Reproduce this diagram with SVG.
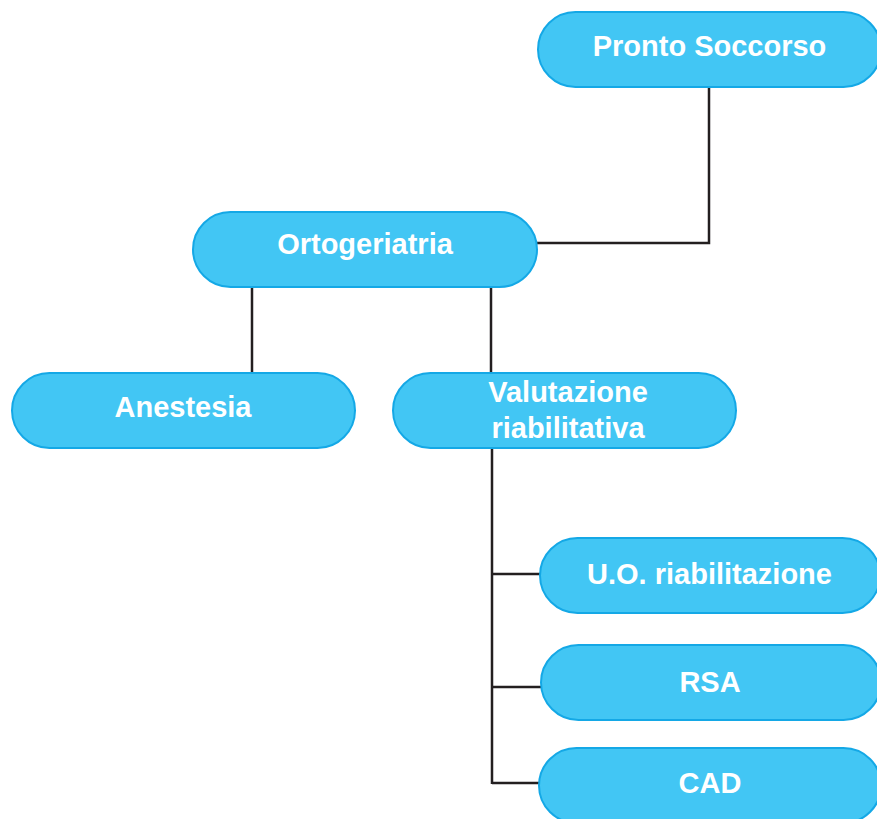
<svg xmlns="http://www.w3.org/2000/svg" width="877" height="819" viewBox="0 0 877 819">
<style>
.node rect{fill:#42C6F4;stroke:#14A8E6;stroke-width:2}
.node text{fill:#FFFFFF;font-family:"Liberation Sans",Arial,sans-serif;font-weight:bold;font-size:29px;text-anchor:middle}
.conn{fill:none;stroke:#231F20;stroke-width:2.5}
</style>
<rect width="877" height="819" fill="#FFFFFF"/>
<g id="connectors">
<polyline class="conn" points="709,87 709,243 537,243"/>
<line class="conn" x1="252" y1="287" x2="252" y2="373"/>
<line class="conn" x1="491" y1="287" x2="491" y2="373"/>
<line class="conn" x1="492" y1="448" x2="492" y2="784"/>
<line class="conn" x1="492" y1="574" x2="540" y2="574"/>
<line class="conn" x1="492" y1="687" x2="541" y2="687"/>
<line class="conn" x1="492" y1="783" x2="539" y2="783"/>
</g>
<g id="pronto-soccorso" class="node"><rect x="538" y="12" width="343" height="75" rx="37.5"/><text x="709.5" y="56">Pronto Soccorso</text></g>
<g id="ortogeriatria" class="node"><rect x="193" y="212" width="344" height="75" rx="37.5"/><text x="365" y="254">Ortogeriatria</text></g>
<g id="anestesia" class="node"><rect x="12" y="373" width="343" height="75" rx="37.5"/><text x="183" y="417">Anestesia</text></g>
<g id="valutazione" class="node"><rect x="393" y="373" width="343" height="75" rx="37.5"/><text x="568" y="402">Valutazione</text><text x="568" y="438">riabilitativa</text></g>
<g id="uo-riabilitazione" class="node"><rect x="540" y="538" width="340" height="75" rx="37.5"/><text x="709.5" y="584">U.O. riabilitazione</text></g>
<g id="rsa" class="node"><rect x="541" y="645" width="340" height="75" rx="37.5"/><text x="710" y="692">RSA</text></g>
<g id="cad" class="node"><rect x="539" y="748" width="342" height="75" rx="37.5"/><text x="710" y="793">CAD</text></g>
</svg>
